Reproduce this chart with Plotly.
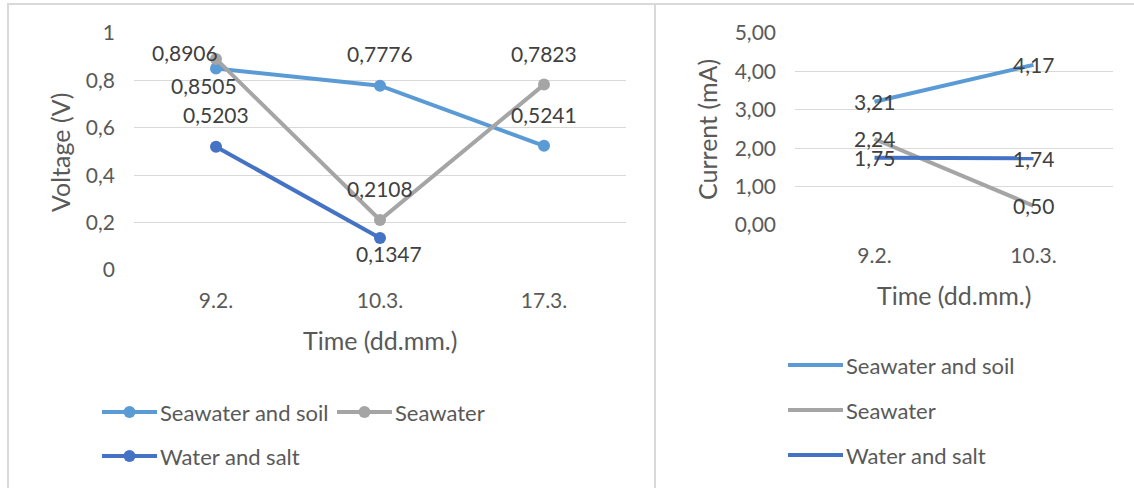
import plotly.graph_objects as go

# ---- data -------------------------------------------------------------
voltage_dates = ["9.2.", "10.3.", "17.3."]
voltage_soil = [0.8505, 0.7776, 0.5241]
voltage_sea = [0.8906, 0.2108, 0.7823]
voltage_salt = [0.5203, 0.1347]

current_dates = ["9.2.", "10.3."]
current_soil = [3.21, 4.17]
current_sea = [2.24, 0.50]
current_salt = [1.75, 1.74]

voltage_ticks = [0, 0.2, 0.4, 0.6, 0.8, 1]
voltage_tick_text = ["0", "0,2", "0,4", "0,6", "0,8", "1"]
current_ticks = [0, 1, 2, 3, 4, 5]
current_tick_text = ["0,00", "1,00", "2,00", "3,00", "4,00", "5,00"]

series_names = ["Seawater and soil", "Seawater", "Water and salt"]

# ---- style ------------------------------------------------------------
W, H = 1134, 488
COLORS = ["#5B9BD5", "#A5A5A5", "#4472C4"]
FONT = "Lato"
TICK_COLOR = "#595959"
LABEL_COLOR = "#404040"
GRID = "#D9D9D9"


def px(x):
    return x / W


def py(y):
    return 1 - y / H


def comma(v, digits):
    return f"{v:.{digits}f}".replace(".", ",")


fig = go.Figure()

# voltage chart (left)
voltage_series = [voltage_soil, voltage_sea, voltage_salt]
for name, vals, col in zip(series_names, voltage_series, COLORS):
    fig.add_trace(go.Scatter(
        x=voltage_dates[:len(vals)], y=vals, name=name, mode="lines+markers",
        line=dict(color=col, width=4), marker=dict(color=col, size=12),
        xaxis="x", yaxis="y", showlegend=False, hoverinfo="skip",
    ))

# label offsets (pixels) for each voltage point
voltage_label_shift = [
    [(-12, -17), (0, 32), (0, 31)],
    [(-31, 6), (0, 32), (0, 31)],
    [(0, 32), (9, -15)],
]
label_font = dict(family=FONT, size=21, color=LABEL_COLOR)
annotations = []
for vals, shifts in zip(voltage_series, voltage_label_shift):
    for d, v, (dx, dy) in zip(voltage_dates, vals, shifts):
        annotations.append(dict(
            x=d, y=v, xref="x", yref="y", text=comma(v, 4), showarrow=False,
            xanchor="center", yanchor="middle",
            xshift=dx, yshift=dy, font=label_font,
        ))

# current chart (right)
current_series = [current_soil, current_sea, current_salt]
for name, vals, col in zip(series_names, current_series, COLORS):
    fig.add_trace(go.Scatter(
        x=current_dates, y=vals, name=name, mode="lines",
        line=dict(color=col, width=4),
        xaxis="x2", yaxis="y2", showlegend=False, hoverinfo="skip",
    ))
for vals in current_series:
    for d, v in zip(current_dates, vals):
        annotations.append(dict(
            x=d, y=v, xref="x2", yref="y2", text=comma(v, 2), showarrow=False,
            xanchor="center", yanchor="middle", font=label_font,
        ))

# axis titles
title_font = dict(family=FONT, size=25, color=TICK_COLOR)
titles = [
    (60, 152, "Voltage (V)", -90),
    (380, 340, "Time (dd.mm.)", 0),
    (707, 130, "Current (mA)", -90),
    (954, 295, "Time (dd.mm.)", 0),
]
for tx, ty, text, angle in titles:
    annotations.append(dict(x=px(tx), y=py(ty), xref="paper", yref="paper", text=text,
                            textangle=angle, xanchor="center", yanchor="middle",
                            showarrow=False, font=title_font))

# chart frames
shapes = [
    dict(type="line", xref="paper", yref="paper", x0=px(7), x1=px(W), y0=py(4), y1=py(4),
         line=dict(color=GRID, width=2)),
    dict(type="line", xref="paper", yref="paper", x0=px(8), x1=px(8), y0=py(4), y1=py(H),
         line=dict(color=GRID, width=2)),
    dict(type="line", xref="paper", yref="paper", x0=px(655), x1=px(655), y0=py(4), y1=py(H),
         line=dict(color=GRID, width=2)),
]

# legends drawn as line samples with text
legend_font = dict(family=FONT, size=22, color=TICK_COLOR)
left_legend = [(102, 412), (337, 412), (102, 456)]
for (lx, ly), name, col in zip(left_legend, series_names, COLORS):
    shapes.append(dict(type="line", xref="paper", yref="paper", x0=px(lx), x1=px(lx + 55),
                       y0=py(ly), y1=py(ly), line=dict(color=col, width=4)))
    shapes.append(dict(type="circle", xref="paper", yref="paper",
                       x0=px(lx + 27.5 - 6), x1=px(lx + 27.5 + 6),
                       y0=py(ly + 6), y1=py(ly - 6), fillcolor=col, line=dict(width=0)))
    annotations.append(dict(x=px(lx + 56), y=py(ly), xref="paper", yref="paper", text=name,
                            xanchor="left", yanchor="middle", showarrow=False, font=legend_font))

right_legend = [(788, 365), (788, 410), (788, 455)]
for (lx, ly), name, col in zip(right_legend, series_names, COLORS):
    shapes.append(dict(type="line", xref="paper", yref="paper", x0=px(lx), x1=px(lx + 55),
                       y0=py(ly), y1=py(ly), line=dict(color=col, width=4)))
    annotations.append(dict(x=px(lx + 56), y=py(ly), xref="paper", yref="paper", text=name,
                            xanchor="left", yanchor="middle", showarrow=False, font=legend_font))

tick_font = dict(family=FONT, size=21, color=TICK_COLOR)
common_x = dict(type="category", showgrid=False, zeroline=False, showline=False,
                ticks="", tickfont=tick_font, ticklabelstandoff=16, fixedrange=True,
                automargin=False)
common_y = dict(showgrid=True, gridcolor=GRID, gridwidth=1, zeroline=False, showline=False,
                ticks="", tickfont=tick_font, fixedrange=True, automargin=False)

fig.update_layout(
    width=W, height=H, margin=dict(l=0, r=0, t=0, b=0, autoexpand=False),
    paper_bgcolor="white", plot_bgcolor="white",
    xaxis=dict(domain=[px(134), px(626)], anchor="y", range=[-0.5, 2.5], **common_x),
    yaxis=dict(domain=[py(270), py(33)], anchor="x", range=[0, 1],
               tickvals=voltage_ticks, ticktext=voltage_tick_text, ticklabelstandoff=18, **common_y),
    xaxis2=dict(domain=[px(795), px(1113)], anchor="y2", range=[-0.5, 1.5], **common_x),
    yaxis2=dict(domain=[py(225), py(33)], anchor="x2", range=[0, 5],
                tickvals=current_ticks, ticktext=current_tick_text, ticklabelstandoff=18, **common_y),
    annotations=annotations, shapes=shapes, showlegend=False,
)

fig.write_html("out.html")
